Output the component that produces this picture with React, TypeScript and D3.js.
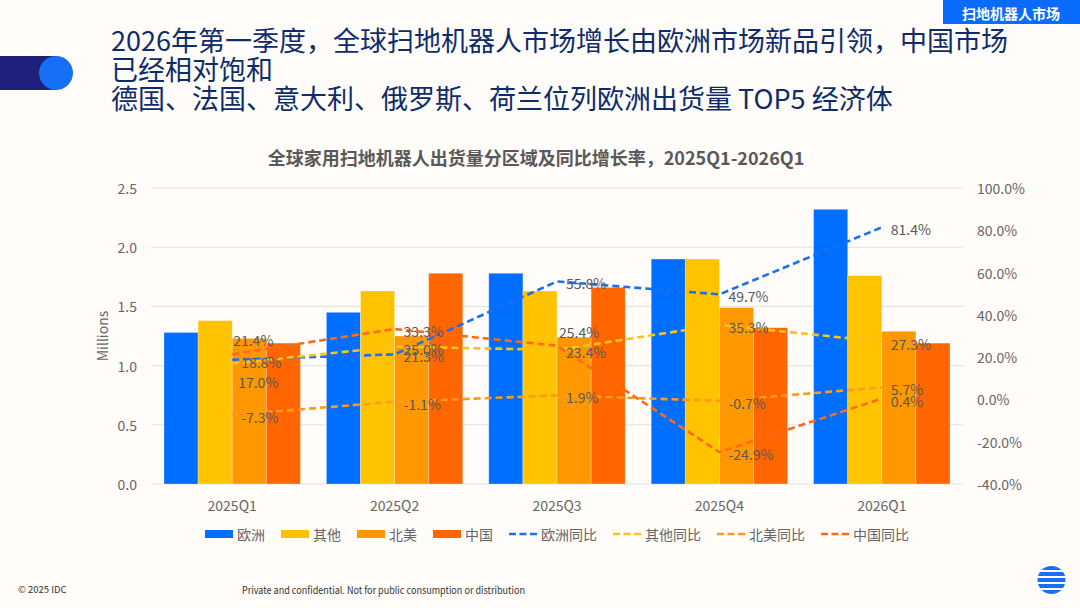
import React from 'react';
import * as d3 from 'd3';

// ---- data ----
const quarters = ['2025Q1', '2025Q2', '2025Q3', '2025Q4', '2026Q1'];

// shipments, millions
const europe = [1.28, 1.45, 1.78, 1.9, 2.32];
const others = [1.38, 1.63, 1.63, 1.9, 1.76];
const northAmerica = [1.23, 1.25, 1.24, 1.49, 1.29];
const china = [1.19, 1.78, 1.66, 1.32, 1.19];

// year over year growth, %
const europeYoY = [18.8, 21.3, 55.8, 49.7, 81.4];
const othersYoY = [17.0, 25.0, 23.4, 35.3, 27.3];
const northAmericaYoY = [-7.3, -1.1, 1.9, -0.7, 5.7];
const chinaYoY = [21.4, 33.3, 25.4, -24.9, 0.4];

const leftTicks = [0, 0.5, 1.0, 1.5, 2.0, 2.5];
const rightTicks = [-40, -20, 0, 20, 40, 60, 80, 100];

const headline = [
  '2026年第一季度，全球扫地机器人市场增长由欧洲市场新品引领，中国市场',
  '已经相对饱和',
  '德国、法国、意大利、俄罗斯、荷兰位列欧洲出货量 TOP5 经济体',
];

const bars = [
  { name: '欧洲', values: europe, color: '#006EFF' },
  { name: '其他', values: others, color: '#FFC300' },
  { name: '北美', values: northAmerica, color: '#FF9700' },
  { name: '中国', values: china, color: '#FF6600' },
];

const lines = [
  { name: '欧洲同比', values: europeYoY, color: '#1A6FF2' },
  { name: '其他同比', values: othersYoY, color: '#FFC21A' },
  { name: '北美同比', values: northAmericaYoY, color: '#FF9A1A' },
  { name: '中国同比', values: chinaYoY, color: '#FF6A1A' },
];

// label nudges where Excel moved labels to avoid overlap
const labelNudge: Record<string, Record<number, [number, number]>> = {
  中国同比: { 0: [-8, -16], 2: [-7, -16] },
  其他同比: { 0: [-3, 17] },
};

const FONT = "'Noto Sans CJK SC', 'Noto Sans', sans-serif";
const W = 1080;
const H = 608;
const plot = { left: 151, right: 963, top: 188, bottom: 484 };

const App: React.FC = () => {
  const x0 = d3.scaleBand<string>().domain(quarters).range([plot.left, plot.right]);
  const x1 = d3
    .scaleBand<string>()
    .domain(bars.map((b) => b.name))
    .range([13, x0.bandwidth() - 13]);
  const y = d3.scaleLinear().domain([0, 2.5]).range([plot.bottom, plot.top]);
  const y2 = d3.scaleLinear().domain([-40, 100]).range([plot.bottom, plot.top]);
  const cx = (q: string) => (x0(q) as number) + x0.bandwidth() / 2;

  const lineGen = d3
    .line<number>()
    .x((_, i) => cx(quarters[i]))
    .y((d) => y2(d));

  const fmtPct = (v: number) => `${v.toFixed(1)}%`;

  // legend layout
  const legendItems = [...bars.map((b) => ({ ...b, kind: 'bar' })), ...lines.map((l) => ({ ...l, kind: 'line' }))];
  let lx = 205;
  const legendPos = legendItems.map((it) => {
    const p = lx;
    lx += 32 + 14 * it.name.length + 16;
    return p;
  });

  return (
    <div style={{ position: 'fixed', left: 0, top: 0, width: W, height: H }}>
      <svg width={W} height={H} style={{ display: 'block', fontFamily: FONT }}>
        <rect width={W} height={H} fill="#FFFCF9" />

        {/* header decoration */}
        <rect x={0} y={56} width={56} height={34} fill="#1F1F7C" />
        <circle cx={56} cy={73} r={17} fill="#1570F6" />
        <rect x={943} y={0} width={137} height={24} fill="#0A6CFF" />
        <text x={1011} y={13} fill="#fff" fontSize={14} fontWeight={700} textAnchor="middle" dominantBaseline="central">
          扫地机器人市场
        </text>
        {headline.map((t, i) => (
          <text key={i} x={111} y={51 + i * 29} fontSize={27} fill="#0E2C6A">
            {t}
          </text>
        ))}

        {/* chart title */}
        <text x={536} y={157} fontSize={18} fontWeight={700} fill="#595959" textAnchor="middle" dominantBaseline="central">
          全球家用扫地机器人出货量分区域及同比增长率，2025Q1-2026Q1
        </text>

        {/* grid + axes */}
        {leftTicks.map((t) => (
          <g key={t}>
            <line x1={plot.left} x2={plot.right} y1={y(t)} y2={y(t)} stroke="#E3E1DF" strokeWidth={1} />
            <text x={137} y={y(t)} fontSize={14} fill="#666" textAnchor="end" dominantBaseline="central">
              {t.toFixed(1)}
            </text>
          </g>
        ))}
        {rightTicks.map((t) => (
          <text key={t} x={977} y={y2(t)} fontSize={14} fill="#666" dominantBaseline="central">
            {fmtPct(t)}
          </text>
        ))}
        <text
          transform={`translate(102, ${(plot.top + plot.bottom) / 2}) rotate(-90)`}
          fontSize={14}
          fill="#666"
          textAnchor="middle"
          dominantBaseline="central"
        >
          Millions
        </text>
        {quarters.map((q) => (
          <text key={q} x={cx(q)} y={505} fontSize={14} fill="#666" textAnchor="middle" dominantBaseline="central">
            {q}
          </text>
        ))}

        {/* bars */}
        {quarters.map((q, i) => (
          <g key={q} transform={`translate(${x0(q)},0)`}>
            {bars.map((b) => (
              <rect
                key={b.name}
                x={x1(b.name)}
                y={y(b.values[i])}
                width={x1.bandwidth()}
                height={y(0) - y(b.values[i])}
                fill={b.color}
                stroke="#ffffff"
                strokeOpacity={0.35}
                strokeWidth={0.8}
              />
            ))}
          </g>
        ))}

        {/* growth lines */}
        {lines.map((l) => (
          <path
            key={l.name}
            d={lineGen(l.values) as string}
            fill="none"
            stroke={l.color}
            strokeWidth={2.6}
            strokeDasharray="7 4"
          />
        ))}
        {lines.map((l) =>
          l.values.map((v, i) => {
            const n = labelNudge[l.name]?.[i] ?? [0, 0];
            return (
              <text
                key={`${l.name}-${i}`}
                x={cx(quarters[i]) + 9 + n[0]}
                y={y2(v) + 2 + n[1]}
                fontSize={14}
                fill="#595959"
                dominantBaseline="central"
              >
                {fmtPct(v)}
              </text>
            );
          })
        )}

        {/* legend */}
        {legendItems.map((it, i) => (
          <g key={it.name} transform={`translate(${legendPos[i]}, 534)`}>
            {it.kind === 'bar' ? (
              <rect x={0} y={-4} width={28} height={8} fill={it.color} />
            ) : (
              <line x1={0} x2={28} y1={0} y2={0} stroke={it.color} strokeWidth={2.6} strokeDasharray="7 3.5" />
            )}
            <text x={32} y={0} fontSize={14} fill="#666" dominantBaseline="central">
              {it.name}
            </text>
          </g>
        ))}

        {/* footer */}
        <text x={18} y={589} fontSize={9.5} fill="#333" dominantBaseline="central">
          © 2025 IDC
        </text>
        <text x={242} y={589} fontSize={10} fill="#333" dominantBaseline="central" textLength={283} lengthAdjust="spacingAndGlyphs">
          Private and confidential. Not for public consumption or distribution
        </text>
        <defs>
          <clipPath id="logoClip">
            <circle cx={1051.5} cy={580} r={14} />
          </clipPath>
        </defs>
        <g clipPath="url(#logoClip)">
          {[566, 572, 578, 584, 590].map((sy) => (
            <rect key={sy} x={1036} y={sy} width={32} height={4} fill="#1A6EF5" />
          ))}
        </g>
      </svg>
    </div>
  );
};

export default App;
